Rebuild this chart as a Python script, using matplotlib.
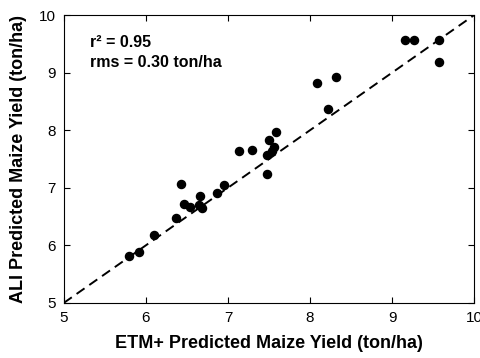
import matplotlib
matplotlib.use('Agg')
import matplotlib.pyplot as plt

# ETM+ predicted (x) vs ALI predicted (y) maize yield, ton/ha
etm_yield = [5.79, 5.92, 6.10, 6.37, 6.43, 6.47, 6.54, 6.65, 6.66, 6.68,
             6.86, 6.95, 7.13, 7.29, 7.47, 7.47, 7.50, 7.53, 7.56, 7.59,
             8.09, 8.22, 8.32, 9.16, 9.26, 9.57, 9.57]
ali_yield = [5.81, 5.88, 6.18, 6.47, 7.07, 6.71, 6.66, 6.70, 6.85, 6.64,
             6.90, 7.04, 7.63, 7.66, 7.57, 7.24, 7.83, 7.63, 7.71, 7.97,
             8.82, 8.37, 8.93, 9.56, 9.56, 9.56, 9.19]
one_to_one = [5, 10]
ticks = [5, 6, 7, 8, 9, 10]

plt.rcParams['font.family'] = ['Liberation Sans', 'DejaVu Sans']

fig = plt.figure(figsize=(4.8, 3.58), dpi=100)
ax = fig.add_axes([0.133, 0.154, 0.855, 0.804])

ax.plot(one_to_one, one_to_one, color='black', linestyle=(0, (5, 3)), linewidth=1.4)
ax.scatter(etm_yield, ali_yield, s=34, color='black', zorder=3)

ax.set_xlim(5, 10)
ax.set_ylim(5, 10)
ax.set_xticks(ticks)
ax.set_yticks(ticks)
ax.tick_params(direction='in', length=4, width=0.8, top=True, right=True,
               labelsize=11, pad=6)
for s in ax.spines.values():
    s.set_linewidth(0.8)

ax.text(5.32, 9.53, 'r² = 0.95', fontsize=11.5, fontweight='bold', va='center')
ax.text(5.32, 9.18, 'rms = 0.30 ton/ha', fontsize=11.5, fontweight='bold', va='center')

ax.set_xlabel('ETM+ Predicted Maize Yield (ton/ha)', fontsize=13, fontweight='bold', labelpad=7)
ax.set_ylabel('ALI Predicted Maize Yield (ton/ha)', fontsize=13, fontweight='bold', labelpad=8)

fig.savefig('out.png', dpi=100)
